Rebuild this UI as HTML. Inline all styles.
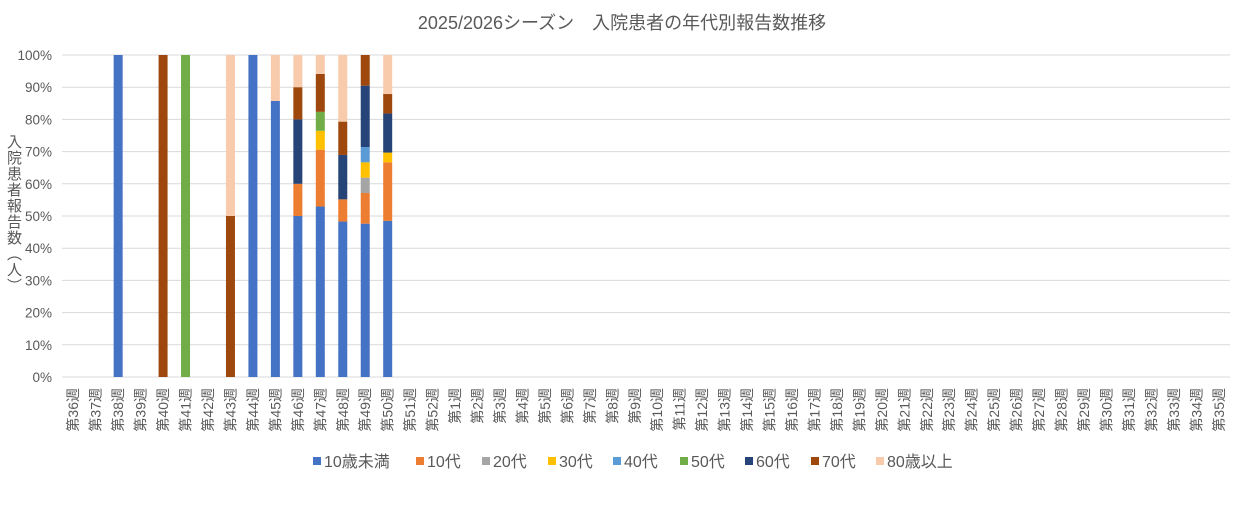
<!DOCTYPE html>
<html><head><meta charset="utf-8"><style>
body{margin:0;background:#fff;width:1245px;height:505px;overflow:hidden;font-family:"Liberation Sans","Noto Sans CJK JP",sans-serif;color:#595959}
#ytitle{position:absolute;left:5px;top:134px;writing-mode:vertical-rl;font-size:15px;line-height:16px;letter-spacing:1px;color:#595959}
</style></head><body>
<div id="ytitle">入院患者報告数（人）</div>
<svg id="chart" width="1245" height="505" style="position:absolute;left:0;top:0">
<text x="622" y="29" text-anchor="middle" font-size="18" fill="#595959">2025/2026シーズン　入院患者の年代別報告数推移</text>
<g id="grid"></g><g id="bars"></g><g id="xlabels"></g><g id="ylabels"></g><g id="legend"></g>
</svg>
<script>
const weeks=["第36週","第37週","第38週","第39週","第40週","第41週","第42週","第43週","第44週","第45週","第46週","第47週","第48週","第49週","第50週","第51週","第52週","第1週","第2週","第3週","第4週","第5週","第6週","第7週","第8週","第9週","第10週","第11週","第12週","第13週","第14週","第15週","第16週","第17週","第18週","第19週","第20週","第21週","第22週","第23週","第24週","第25週","第26週","第27週","第28週","第29週","第30週","第31週","第32週","第33週","第34週","第35週"];
const seriesNames=["10歳未満","10代","20代","30代","40代","50代","60代","70代","80歳以上"];
const colors=["#4472C4","#ED7D31","#A5A5A5","#FFC000","#5B9BD5","#70AD47","#264478","#9E480E","#F8CBAD"];
const s0=[0,0,1,0,0,0,0,0,1,6,5,9,14,10,16];
const s1=[0,0,0,0,0,0,0,0,0,0,1,3,2,2,6];
const s2=[0,0,0,0,0,0,0,0,0,0,0,0,0,1,0];
const s3=[0,0,0,0,0,0,0,0,0,0,0,1,0,1,1];
const s4=[0,0,0,0,0,0,0,0,0,0,0,0,0,1,0];
const s5=[0,0,0,0,0,1,0,0,0,0,0,1,0,0,0];
const s6=[0,0,0,0,0,0,0,0,0,0,2,0,4,4,4];
const s7=[0,0,0,0,1,0,0,1,0,0,1,2,3,2,2];
const s8=[0,0,0,0,0,0,0,1,0,1,1,1,6,0,4];
const series=[s0,s1,s2,s3,s4,s5,s6,s7,s8];
const yTicks=[0,10,20,30,40,50,60,70,80,90,100];
const NS="http://www.w3.org/2000/svg";
const L=62,R=1230,T=55,B=377;
const bw=(R-L)/weeks.length;
const xC=i=>L+bw*(i+0.5);
const yP=p=>B-(B-T)*p/100;
function mk(t,a,p){const e=document.createElementNS(NS,t);for(const k in a)e.setAttribute(k,a[k]);p.appendChild(e);return e;}
const grid=document.getElementById('grid'),yl=document.getElementById('ylabels');
yTicks.forEach(v=>{
 const l=mk('line',{x1:L,x2:R,y1:yP(v),y2:yP(v),stroke:'#d9d9d9','stroke-width':1},grid);
 
 
 const t=mk('text',{x:52,y:yP(v)+5,'text-anchor':'end','font-size':13.5,fill:'#595959'},yl);
 t.textContent=v+'%';
 
 
});
const bars=document.getElementById('bars');
weeks.forEach((w,i)=>{
 let tot=0;series.forEach(s=>tot+=(s[i]||0));
 if(!tot)return;
 let acc=0;
 series.forEach((s,k)=>{
  const v=s[i]||0;if(!v)return;
  const y1=yP(acc/tot*100),y2=yP((acc+v)/tot*100);acc+=v;
  const r=mk('rect',{x:xC(i)-4.5,y:y2,width:9,height:y1-y2,fill:colors[k]},bars);
  
  
 });
});
const xl=document.getElementById('xlabels');
weeks.forEach((w,i)=>{
 const t=mk('text',{x:0,y:0,'text-anchor':'end','font-size':14,fill:'#595959',transform:`translate(${xC(i)+5},388) rotate(-90)`},xl);
 t.textContent=w;
 
 
});
const lg=document.getElementById('legend');
const lx=[313,416,482,548,613,680,745,811,876];
seriesNames.forEach((n,k)=>{
 const r=mk('rect',{x:lx[k],y:457,width:8,height:8,fill:colors[k]},lg);
 
 
 const t=mk('text',{x:lx[k]+11,y:467,'font-size':16,fill:'#595959'},lg);
 t.textContent=n;
 
 
});
</script>
</body></html>
